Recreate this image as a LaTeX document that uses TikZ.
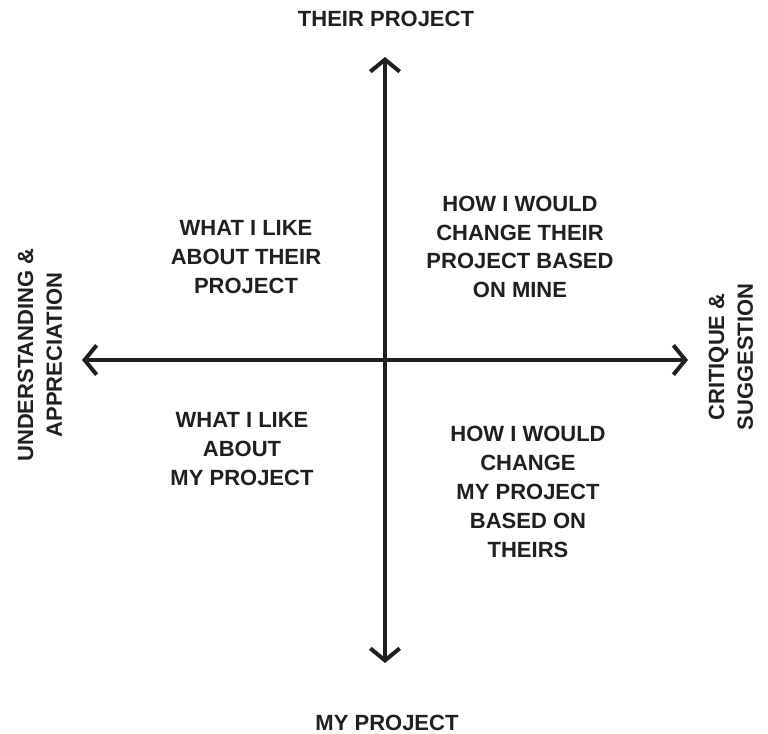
\documentclass[tikz,border=0pt]{standalone}
\usepackage{fontspec}
\setmainfont{Liberation Sans}
\usetikzlibrary{arrows.meta}
\definecolor{ink}{RGB}{35,31,32}

\begin{document}
\begin{tikzpicture}[x=0.75pt,y=0.75pt,yscale=-1,xscale=1,
  axis/.style={draw=ink, line width=3pt, {Straight Barb[length=9pt,width=22pt]}-{Straight Barb[length=9pt,width=22pt]}},
  lbl/.style={text=ink, font=\bfseries\fontsize{16.5}{21.6}\selectfont, align=center, inner sep=0pt}]
%set diagram left start at 0, and has height of 734
\useasboundingbox (0,0) rectangle (768,734);

% Axis ends
\coordinate (top) at (385,57);
\coordinate (bottom) at (385,663);
\coordinate (left) at (82,360);
\coordinate (right) at (688,360);

%Straight Lines
\draw [axis] (top) -- (bottom);
%Straight Lines
\draw [axis] (left) -- (right);

% Text Node
\node [lbl] (their) at (386,19) {THEIR PROJECT};
% Text Node
\node [lbl] (mine) at (387,723) {MY PROJECT};
% Text Node
\node [lbl, rotate=90] (understand) at (40,355) {UNDERSTANDING \&\\APPRECIATION};
% Text Node
\node [lbl, rotate=90] (critique) at (731,357) {CRITIQUE \&\\SUGGESTION};
% Text Node
\node [lbl] (likeTheirs) at (246,257) {WHAT I LIKE\\ABOUT THEIR\\PROJECT};
% Text Node
\node [lbl] (changeTheirs) at (520,247) {HOW I WOULD\\CHANGE THEIR\\PROJECT BASED\\ON MINE};
% Text Node
\node [lbl] (likeMine) at (242,449) {WHAT I LIKE\\ABOUT\\MY PROJECT};
% Text Node
\node [lbl] (changeMine) at (528,492) {HOW I WOULD\\CHANGE\\MY PROJECT\\BASED ON\\THEIRS};

\end{tikzpicture}
\end{document}
